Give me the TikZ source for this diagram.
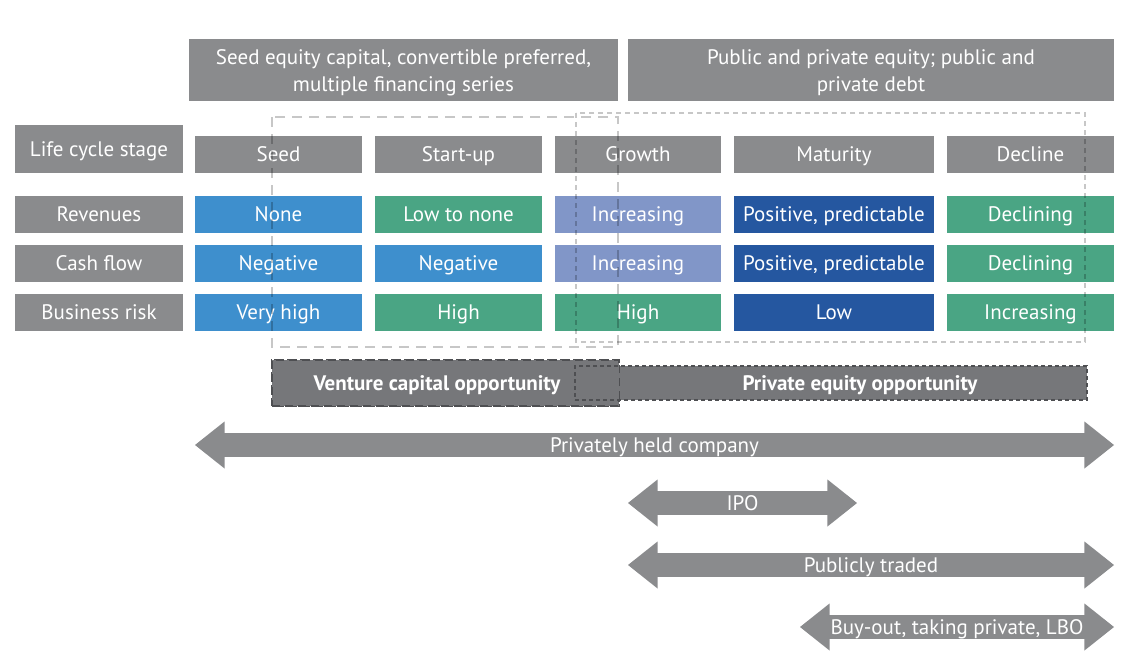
\documentclass[tikz,border=0pt]{standalone}
\usepackage{fontspec}
\setmainfont{PT Sans}
\usepackage{tikz}
\usetikzlibrary{shapes.arrows}
\definecolor{Slate}{HTML}{8A8B8D}
\definecolor{SkyBlue}{HTML}{3E8FCD}
\definecolor{Jade}{HTML}{4AA584}
\definecolor{Lilac}{HTML}{8196C8}
\definecolor{Navy}{HTML}{2557A0}
\definecolor{OppFill}{HTML}{76777A}
\definecolor{OppLine}{HTML}{4E4F52}

\begin{document}
\begin{tikzpicture}[x=1pt, y=-1pt,
  every node/.style={font=\fontsize{21}{27}\selectfont, text=white, inner sep=0pt, align=center,
    text height=14.7pt, text depth=0pt},
  cell/.style={fill=#1, minimum height=37},
  opp/.style={fill=OppFill, draw=OppLine, line width=1.2pt},
  ghost/.style={draw=black, draw opacity=0.22, line width=1.2pt},
  span/.style={shape=double arrow, fill=Slate, minimum width=47, double arrow head extend=7.5,
    double arrow tip angle=77}]
  \useasboundingbox (0,0) rectangle (1128,654);
  % financing
  \node[cell=Slate, minimum width=429, minimum height=62, text height=42.6pt] (fin-vc) at (403.5,70) {Seed equity capital, convertible preferred,\\ multiple financing series};
  \node[cell=Slate, minimum width=486, minimum height=62, text height=42.6pt] (fin-pe) at (871,70) {Public and private equity; public and\\ private debt};
  % row labels
  \node[cell=Slate, minimum width=168, minimum height=48] (lbl-stage) at (99,149) {Life cycle stage};
  \node[cell=Slate, minimum width=168] (lbl-rev) at (99,214.5) {Revenues};
  \node[cell=Slate, minimum width=168] (lbl-cash) at (99,263.5) {Cash flow};
  \node[cell=Slate, minimum width=168] (lbl-risk) at (99,312.5) {Business risk};
  % stages
  \foreach \col/\cx/\w/\lbl in {seed/278.5/167/Seed, start/458.5/167/Start-up, growth/638/166/Growth,
      mature/834/200/Maturity, decline/1030.5/167/Decline}
    \node[cell=Slate, minimum width=\w] (stage-\col) at (\cx,154.5) {\lbl};
  \foreach \col/\w/\clr/\lbl in {seed/167/SkyBlue/None, start/167/Jade/Low to none, growth/166/Lilac/Increasing,
      mature/200/Navy/{Positive, predictable}, decline/167/Jade/Declining}
    \node[cell=\clr, minimum width=\w] (rev-\col) at (stage-\col |- lbl-rev) {\lbl};
  \foreach \col/\w/\clr/\lbl in {seed/167/SkyBlue/Negative, start/167/SkyBlue/Negative, growth/166/Lilac/Increasing,
      mature/200/Navy/{Positive, predictable}, decline/167/Jade/Declining}
    \node[cell=\clr, minimum width=\w] (cash-\col) at (stage-\col |- lbl-cash) {\lbl};
  \foreach \col/\w/\clr/\lbl in {seed/167/SkyBlue/Very high, start/167/Jade/High, growth/166/Jade/High,
      mature/200/Navy/Low, decline/167/Jade/Increasing}
    \node[cell=\clr, minimum width=\w] (risk-\col) at (stage-\col |- lbl-risk) {\lbl};
  % opportunity windows
  \draw[ghost, dash pattern=on 10pt off 7pt] (272,117) rectangle (618,347);
  \draw[ghost, dash pattern=on 5pt off 4pt] (576,113) rectangle (1085,342);
  \node[opp, dash pattern=on 8pt off 5pt, minimum width=347, minimum height=46] (vc) at (445.5,383) {};
  \node[opp, dash pattern=on 4pt off 3pt, minimum width=512, minimum height=34] (pe) at (831,383) {};
  \draw[OppLine, line width=1.2pt, dash pattern=on 8pt off 5pt] (vc.north west) rectangle (vc.south east);
  \node[font=\fontsize{21}{22}\bfseries] (vc-txt) at (437,383) {Venture capital opportunity};
  \node[font=\fontsize{21}{22}\bfseries] (pe-txt) at (860,383) {Private equity opportunity};
  % ownership spans
  \node[span, minimum height=919] (private) at (654.5,445) {Privately held company};
  \node[span, minimum height=229] (ipo) at (742.5,503) {IPO};
  \node[span, minimum height=486] (public) at (871,565) {Publicly traded};
  \node[span, minimum height=314] (lbo) at (957,627) {Buy-out, taking private, LBO};
\end{tikzpicture}
\end{document}
